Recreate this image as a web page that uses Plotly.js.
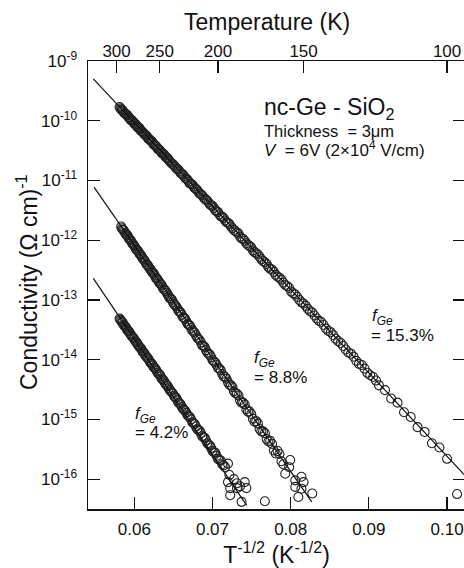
<!DOCTYPE html>
<html>
<head>
<meta charset="utf-8">
<script src="https://cdn.plot.ly/plotly-3.0.1.min.js"></script>
<style>
html, body { margin:0; padding:0; overflow:hidden; background:#fff; }
#chart { width:470px; height:568px; }
</style>
</head>
<body>
<div id="chart"></div>
<script>
// Temperatures (K) and log10 conductivity (Ω cm)^-1
// f_Ge = 15.3 %
const T1 = [296,294,292,290,288,286,284,282,280,278,276,274,272,270,268,266,264,262,260,258,256,254,252,250,248,246,244,242,240,238,236,234,232,230,228,226,224,222,220,218,216,214,212,210,208,206,204,202,200,198,196,194,192,190,188,186,184,182,180,178,176,174,172,170,168,166,164,162,160,158,156,154,152,150,148,146,144,142,140,138,136,134,132,130,128,126,124,122,120,118,116,114,112,110,108,106,104,102,100,97.5];
const logS1 = [-9.77,-9.81,-9.83,-9.87,-9.89,-9.91,-9.95,-9.99,-10.00,-10.04,
  -10.06,-10.11,-10.12,-10.17,-10.19,-10.23,-10.25,-10.30,-10.32,-10.35,
  -10.40,-10.42,-10.47,-10.49,-10.54,-10.56,-10.61,-10.63,-10.68,-10.72,
  -10.75,-10.80,-10.82,-10.88,-10.90,-10.96,-10.99,-11.05,-11.07,-11.13,
  -11.16,-11.22,-11.25,-11.31,-11.34,-11.40,-11.43,-11.50,-11.53,-11.60,
  -11.63,-11.70,-11.73,-11.80,-11.85,-11.89,-11.97,-12.01,-12.08,-12.12,
  -12.20,-12.24,-12.32,-12.37,-12.45,-12.49,-12.58,-12.63,-12.71,-12.77,
  -12.86,-12.91,-13.00,-13.06,-13.15,-13.21,-13.31,-13.37,-13.48,-13.54,
  -13.65,-13.72,-13.83,-13.90,-14.02,-14.09,-14.22,-14.29,-14.43,-14.51,
  -14.65,-14.72,-14.88,-14.96,-15.13,-15.21,-15.40,-15.47,-15.66,-16.25];
const T1b = [295,293,291,289,287,285,283,281,279,277,275,273,271,269,267,265,263,261,259,257,255,253,251,249,247,245,243,241,239,237,235,233,231,229,227,225,223,221,219,217,215,213,211,209,207,205,203,201,
  199,197,195,193,191,189,187,185,183,181,179,177,175,173,171,169,167,165,163,161,159,157,155,153,151,149,147,145,143,141,139,137,135,133,131,129,127,125,123,121];
const logS1b = [-9.79,-9.82,-9.85,-9.88,-9.90,-9.94,-9.96,-9.99,-10.02,-10.06,
  -10.08,-10.12,-10.14,-10.18,-10.21,-10.24,-10.27,-10.31,-10.34,-10.37,
  -10.41,-10.44,-10.48,-10.51,-10.55,-10.58,-10.62,-10.66,-10.70,-10.73,
  -10.77,-10.81,-10.85,-10.89,-10.93,-10.97,-11.02,-11.06,-11.10,-11.14,
  -11.19,-11.23,-11.28,-11.32,-11.37,-11.42,-11.46,-11.52,
  -11.57,-11.61,-11.67,-11.71,-11.77,-11.83,-11.87,-11.94,-11.98,-12.05,
  -12.10,-12.17,-12.22,-12.28,-12.35,-12.40,-12.48,-12.53,-12.61,-12.66,
  -12.75,-12.80,-12.89,-12.95,-13.04,-13.10,-13.19,-13.26,-13.35,-13.42,
  -13.52,-13.59,-13.69,-13.77,-13.88,-13.95,-14.07,-14.15,-14.26,-14.35];

// f_Ge = 8.8 %
const T2 = [294,292,290,288,286,284,282,280,278,276,274,272,270,268,266,264,262,260,258,256,254,252,250,248,246,244,242,240,238,236,234,232,230,228,226,224,222,220,218,216,214,212,210,208,206,204,202,200,198,196,194,192,190,188,186,184,182,180,178,176,174,172,170,168,166,164,162,160,159,157,156.5,154,154,152.5,151,151,150,146];
const logS2 = [-11.77,-11.82,-11.85,-11.90,-11.92,-11.98,-12.00,-12.06,-12.09,-12.14,
  -12.17,-12.22,-12.25,-12.31,-12.34,-12.40,-12.43,-12.48,-12.53,-12.56,
  -12.63,-12.66,-12.72,-12.75,-12.82,-12.85,-12.91,-12.97,-13.00,-13.07,
  -13.11,-13.18,-13.21,-13.29,-13.32,-13.40,-13.43,-13.51,-13.55,-13.63,
  -13.67,-13.76,-13.79,-13.88,-13.92,-14.01,-14.05,-14.14,-14.18,-14.28,
  -14.32,-14.42,-14.46,-14.56,-14.60,-14.72,-14.75,-14.87,-14.91,-15.04,
  -15.07,-15.20,-15.23,-15.37,-15.41,-15.57,-15.58,-15.75,
  -15.91,-15.80,-15.68,-16.02,-16.13,-16.30,-15.96,-16.16,-16.05,-16.24];
const T2b = [293,291,289,287,285,283,281,279,277,275,273,271,269,267,265,263,261,259,257,255,253,251,249,247,245,243,241,239,237,235,233,231,229,227,225,223,221,219,217,215,213,211,209,207,205,203,201,
  199,197,195,193,191,189,187,185,183,181,179,177,175,173,171,169,167,165,163,161];
const logS2b = [-11.80,-11.83,-11.88,-11.91,-11.95,-11.99,-12.03,-12.07,-12.11,-12.16,
  -12.19,-12.24,-12.28,-12.32,-12.37,-12.41,-12.46,-12.50,-12.55,-12.59,
  -12.64,-12.69,-12.73,-12.79,-12.83,-12.88,-12.94,-12.98,-13.04,-13.09,
  -13.14,-13.20,-13.25,-13.30,-13.36,-13.42,-13.47,-13.53,-13.59,-13.65,
  -13.71,-13.77,-13.84,-13.90,-13.96,-14.03,-14.09,
  -14.15,-14.24,-14.29,-14.38,-14.43,-14.53,-14.57,-14.68,-14.72,-14.83,
  -14.87,-14.99,-15.03,-15.16,-15.20,-15.33,-15.36,-15.52,-15.53,-15.70];

// f_Ge = 4.2 %
const T3 = [296,294,292,290,288,286,284,282,280,278,276,274,272,270,268,266,264,262,260,258,256,254,252,250,248,246,244,242,240,238,236,234,232,230,228,226,224,222,220,218,216,214,212,210,208,206,204,202,200,198,196,195,193,193,192,191.5,191.5,189,187,187,185,184,182,181,170];
const logS3 = [-13.31,-13.35,-13.38,-13.43,-13.46,-13.51,-13.53,-13.58,-13.62,-13.65,
  -13.70,-13.74,-13.78,-13.81,-13.87,-13.90,-13.95,-13.98,-14.04,-14.07,
  -14.13,-14.16,-14.22,-14.25,-14.32,-14.35,-14.41,-14.44,-14.51,-14.55,
  -14.61,-14.64,-14.72,-14.75,-14.82,-14.86,-14.93,-14.96,-15.05,-15.08,
  -15.16,-15.19,-15.28,-15.31,-15.40,-15.44,-15.53,-15.56,-15.66,-15.69,
  -15.77,
  -15.80,-15.74,-16.05,-15.93,-16.15,-16.27,-16.00,-16.07,-16.15,-16.12,-16.38,-16.05,-16.15,-16.37];
const T3b = [295,293,291,289,287,285,283,281,279,277,275,273,271,269,267,265,263,261,259,257,255,253,251,249,247,245,243,241,239,237,235,233,231,229,227,225,223,221,219,217,215,213,211,209,207,205,203,201,199,197];
const logS3b = [-13.33,-13.37,-13.41,-13.44,-13.48,-13.52,-13.56,-13.60,-13.63,-13.68,
  -13.71,-13.76,-13.80,-13.84,-13.88,-13.93,-13.97,-14.01,-14.06,-14.10,
  -14.14,-14.19,-14.24,-14.28,-14.33,-14.38,-14.43,-14.48,-14.53,-14.57,
  -14.63,-14.68,-14.73,-14.79,-14.84,-14.89,-14.95,-15.00,-15.06,-15.12,
  -15.18,-15.23,-15.30,-15.35,-15.42,-15.48,-15.55,-15.61,-15.68,-15.75];

// fitted lines (T^-1/2 endpoints, log10 sigma)
const fitX1 = [0.05476, 0.10229], fitY1 = [-9.30, -15.94];
const fitX2 = [0.05485, 0.08269], fitY2 = [-11.11, -16.38];
const fitX3 = [0.05476, 0.07437], fitY3 = [-12.64, -16.44];

// tick labels
const bottomTicks = [0.06, 0.07, 0.08, 0.09, 0.10];
const bottomText = ['0.06','0.07','0.08','0.09','0.10'];
const topTemps = [300, 250, 200, 150, 100];
const topText = ['300','250','200','150','100'];
const yExps = [-9,-10,-11,-12,-13,-14,-15,-16];

const invSqrt = arr => arr.map(t => 1/Math.sqrt(t));
const pow10 = arr => arr.map(v => Math.pow(10, v));

const FONT = 'Liberation Sans, Arial, Helvetica, sans-serif';
const INK = '#111';

const marker = {symbol:'circle-open', size:9, color:'#222', line:{width:1.1, color:'#222'}};

function series(Ta, La, Tb, Lb) {
  return {x: invSqrt(Ta.concat(Tb)), y: pow10(La.concat(Lb)), mode:'markers', marker: marker,
          xaxis:'x', yaxis:'y', showlegend:false, cliponaxis:true};
}

const traces = [
  series(T1, logS1, T1b, logS1b),
  series(T2, logS2, T2b, logS2b),
  series(T3, logS3, T3b, logS3b),
  {x: fitX1, y: pow10(fitY1), mode:'lines', line:{color:INK, width:1.2}, xaxis:'x2', yaxis:'y', showlegend:false},
  {x: fitX2, y: pow10(fitY2), mode:'lines', line:{color:INK, width:1.2}, xaxis:'x2', yaxis:'y', showlegend:false},
  {x: fitX3, y: pow10(fitY3), mode:'lines', line:{color:INK, width:1.2}, xaxis:'x2', yaxis:'y', showlegend:false}
];

const XR = [0.05408, 0.10229];

const layout = {
  width: 470, height: 568,
  margin: {l:88, r:5, t:61, b:59},
  paper_bgcolor:'#fff', plot_bgcolor:'#fff',
  font: {family: FONT, color: INK, size: 17},
  showlegend: false,
  xaxis: {
    range: XR, type:'linear',
    tickmode:'array', tickvals: bottomTicks, ticktext: bottomText,
    ticks:'inside', ticklen:12, tickwidth:1.2, tickcolor:INK,
    showline:true, linewidth:1.5, linecolor:INK, mirror:false,
    showgrid:false, zeroline:false,
    tickfont:{size:17, family:FONT, color:INK},
    ticklabelstandoff: 4,
    title:{text:'T<sup>-1/2</sup> (K<sup>-1/2</sup>)', font:{size:23, family:FONT, color:INK}, standoff:6}
  },
  xaxis2: {
    range: XR, type:'linear', overlaying:'x', side:'top', anchor:'y',
    tickmode:'array', tickvals: invSqrt(topTemps), ticktext: topText,
    ticks:'inside', ticklen:12, tickwidth:1.2, tickcolor:INK,
    showline:true, linewidth:1.5, linecolor:INK,
    showgrid:false, zeroline:false,
    tickfont:{size:17, family:FONT, color:INK},
    ticklabelstandoff: -4
  },
  yaxis: {
    type:'log', range:[-16.5, -9],
    tickmode:'array', tickvals: yExps.map(e => Math.pow(10, e)),
    ticktext: yExps.map(e => '10<sup>' + e + '</sup>'),
    ticks:'inside', ticklen:12, tickwidth:1.2, tickcolor:INK,
    showline:true, linewidth:1.5, linecolor:INK, mirror:'ticks',
    showgrid:false, zeroline:false,
    tickfont:{size:17, family:FONT, color:INK},
    ticklabelstandoff: 6
  },
  annotations: [
    {text:'Conductivity (Ω cm)<sup>-1</sup>', xref:'paper', yref:'paper', x:(27-88)/377, y:(509-282)/448, xanchor:'center', yanchor:'middle', textangle:-90, showarrow:false, font:{size:23, family:FONT, color:INK}},
    {text:'Temperature (K)', xref:'paper', yref:'paper', x:(267-88)/377, y:(509-22)/448, xanchor:'center', yanchor:'middle', showarrow:false, font:{size:23, family:FONT, color:INK}},
    {text:'nc-Ge - SiO<sub>2</sub>', xref:'paper', yref:'paper', x:(262-88)/377, y:(509-109)/448, xanchor:'left', yanchor:'middle', showarrow:false, font:{size:23, family:FONT, color:INK}},
    {text:'Thickness&nbsp; = 3μm', xref:'paper', yref:'paper', x:(262-88)/377, y:(509-131)/448, xanchor:'left', yanchor:'middle', showarrow:false, font:{size:16.5, family:FONT, color:INK}},
    {text:'<i>V</i>&nbsp; = 6V (2×10<sup>4</sup> V/cm)', xref:'paper', yref:'paper', x:(262-88)/377, y:(509-149)/448, xanchor:'left', yanchor:'middle', showarrow:false, font:{size:17, family:FONT, color:INK}},
    {text:'<i>f<sub>Ge</sub></i>', xref:'paper', yref:'paper', x:(370-88)/377, y:(509-317)/448, xanchor:'left', yanchor:'middle', showarrow:false, font:{size:17, family:FONT, color:INK}},
    {text:'= 15.3%', xref:'paper', yref:'paper', x:(369-88)/377, y:(509-335)/448, xanchor:'left', yanchor:'middle', showarrow:false, font:{size:17, family:FONT, color:INK}},
    {text:'<i>f<sub>Ge</sub></i>', xref:'paper', yref:'paper', x:(252-88)/377, y:(509-359)/448, xanchor:'left', yanchor:'middle', showarrow:false, font:{size:17, family:FONT, color:INK}},
    {text:'= 8.8%', xref:'paper', yref:'paper', x:(252-88)/377, y:(509-377)/448, xanchor:'left', yanchor:'middle', showarrow:false, font:{size:17, family:FONT, color:INK}},
    {text:'<i>f<sub>Ge</sub></i>', xref:'paper', yref:'paper', x:(133-88)/377, y:(509-415)/448, xanchor:'left', yanchor:'middle', showarrow:false, font:{size:17, family:FONT, color:INK}},
    {text:'= 4.2%', xref:'paper', yref:'paper', x:(133-88)/377, y:(509-432)/448, xanchor:'left', yanchor:'middle', showarrow:false, font:{size:17, family:FONT, color:INK}}
  ]
};

Plotly.newPlot('chart', traces, layout, {staticPlot:true, displayModeBar:false});
</script>
</body>
</html>
